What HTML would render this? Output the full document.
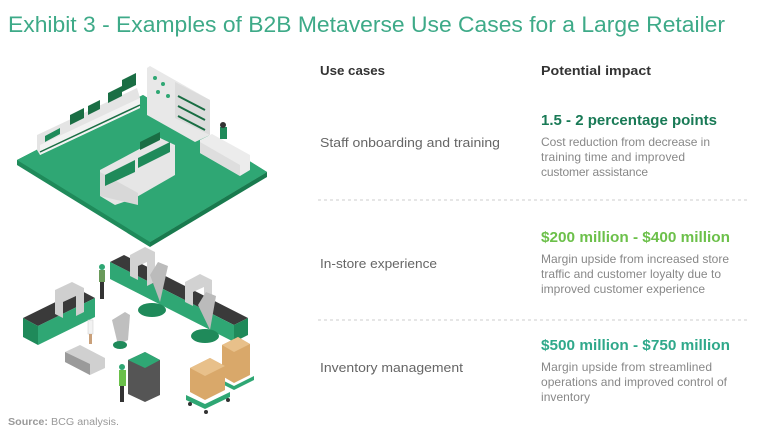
<!DOCTYPE html>
<html><head><meta charset="utf-8"><style>
html,body{margin:0;padding:0;background:#fff;}
svg{display:block;}
text{font-family:"Liberation Sans",sans-serif;}
</style></head><body>
<svg width="768" height="448" viewBox="0 0 768 448" xmlns="http://www.w3.org/2000/svg">
<rect width="768" height="448" fill="#fff"/>
<text x="8" y="32" font-size="22" fill="#3eaa88" textLength="717" lengthAdjust="spacingAndGlyphs">Exhibit 3 - Examples of B2B Metaverse Use Cases for a Large Retailer</text>

<!-- store floor -->
<polygon points="17,160 143,95 267,172 150,242 150,247 17,165" fill="#1f8a5a"/>
<polygon points="150,242 267,172 267,177 150,247" fill="#197a4e"/>
<polygon points="17,160 143,95 267,172 150,242" fill="#2fa774"/>
<!-- back-left shelves -->
<polygon points="37,135 137,88 140,98 140,108 40,155 37,150" fill="#e4e4e4"/>
<polygon points="40,145 140,98 140,108 40,155" fill="#f2f2f2"/>
<polygon points="45,142 60,134 60,128 45,136" fill="#1f8a5a"/>
<polygon points="70,125 84,118 84,108 70,115" fill="#1a6e44"/>
<polygon points="88,115 100,109 100,100 88,106" fill="#1a6e44"/>
<polygon points="108,103 122,96 122,86 108,93" fill="#1a6e44"/>
<polygon points="122,92 136,85 136,73 122,80" fill="#1a6e44"/>
<line x1="40" y1="152" x2="140" y2="105" stroke="#1a6e44" stroke-width="1.5"/>
<!-- back-right wall -->
<polygon points="147,68 150,66 210,100 210,135 195,142 147,115" fill="#e8e8e8"/>
<polygon points="175,82 210,100 210,135 175,118" fill="#dcdcdc"/>
<circle cx="155" cy="78" r="2" fill="#2fa774"/><circle cx="163" cy="84" r="2" fill="#2fa774"/><circle cx="158" cy="92" r="2" fill="#2fa774"/><circle cx="168" cy="96" r="2" fill="#2fa774"/>
<line x1="178" y1="96" x2="205" y2="110" stroke="#1a6e44" stroke-width="2"/>
<line x1="178" y1="106" x2="205" y2="120" stroke="#1a6e44" stroke-width="2"/>
<line x1="178" y1="116" x2="205" y2="130" stroke="#1a6e44" stroke-width="2"/>
<!-- counter -->
<polygon points="200,140 212,134 250,155 250,170 240,176 200,153" fill="#ececec"/>
<polygon points="200,142 240,165 240,176 200,153" fill="#dedede"/>
<rect x="220" y="127" width="7" height="12" fill="#1f8a5a"/><circle cx="223" cy="125" r="3" fill="#333"/>
<!-- center shelves -->
<polygon points="100,170 160,138 175,145 175,175 135,198 115,205 100,196" fill="#e6e6e6"/>
<polygon points="100,172 138,193 138,205 100,196" fill="#d8d8d8"/>
<polygon points="105,175 135,160 135,172 105,186" fill="#1f8a5a"/>
<polygon points="138,158 170,142 170,152 138,168" fill="#1f8a5a"/>
<polygon points="140,150 160,140 160,132 140,142" fill="#1a6e44"/>

<!-- factory -->
<!-- left conveyor -->
<polygon points="23,318 80,290 95,298 38,326" fill="#3a3a3a"/>
<polygon points="23,318 38,326 38,345 23,337" fill="#1f8a5a"/>
<polygon points="38,326 95,298 95,317 38,345" fill="#2fa774"/>
<polygon points="55,290 72,282 84,288 84,312 76,316 76,296 63,302 63,318 55,314" fill="#cfcfcf"/>
<!-- back conveyor -->
<polygon points="110,262 124,255 248,318 234,325" fill="#3a3a3a"/>
<polygon points="110,262 234,325 234,342 110,279" fill="#2fa774"/>
<polygon points="234,325 248,318 248,335 234,342" fill="#1f8a5a"/>
<polygon points="130,255 145,247 155,252 155,282 147,286 147,262 138,266 138,280 130,276" fill="#d2d2d2"/>
<polygon points="185,282 200,274 212,280 212,305 204,309 204,287 193,292 193,306 185,302" fill="#d2d2d2"/>
<polygon points="150,275 158,262 168,266 160,302" fill="#bbbbbb"/>
<ellipse cx="152" cy="310" rx="14" ry="7" fill="#1f8a5a"/>
<polygon points="198,305 206,292 216,296 210,330" fill="#bbbbbb"/>
<ellipse cx="205" cy="336" rx="14" ry="7" fill="#1f8a5a"/>
<!-- workers -->
<rect x="99" y="270" width="6" height="12" fill="#6a9a5a"/><rect x="100" y="282" width="4" height="17" fill="#333"/><circle cx="102" cy="267" r="3" fill="#2fa774"/>
<rect x="88" y="320" width="5" height="14" fill="#f2f2f2" stroke="#ccc" stroke-width=".5"/><rect x="89" y="334" width="3" height="10" fill="#c9a07a"/>
<polygon points="112,320 125,312 130,315 128,340 118,345" fill="#bfbfbf"/>
<ellipse cx="120" cy="345" rx="7" ry="4" fill="#1f8a5a"/>
<!-- agv -->
<polygon points="65,352 80,345 105,358 105,368 90,375 65,362" fill="#d0d0d0"/>
<polygon points="65,352 90,364 90,375 65,362" fill="#9a9a9a"/>
<!-- control panel -->
<polygon points="128,360 145,352 160,360 160,395 145,402 128,394" fill="#555"/>
<polygon points="128,360 145,352 160,360 145,368" fill="#2fa774"/>
<rect x="119" y="370" width="7" height="16" fill="#6ac04a"/><rect x="120" y="386" width="4" height="16" fill="#333"/><circle cx="122" cy="367" r="3" fill="#2fa774"/>
<!-- carts with boxes -->
<polygon points="222,345 238,337 250,344 250,375 234,383 222,376" fill="#d9a86a"/>
<polygon points="222,345 238,337 250,344 234,352" fill="#e8c08a"/>
<polygon points="218,378 234,386 254,376 254,380 234,390 218,382" fill="#2fa774"/>
<polygon points="190,368 210,358 225,366 225,390 205,400 190,392" fill="#d9a86a"/>
<polygon points="190,368 210,358 225,366 205,376" fill="#e8c08a"/>
<polygon points="186,395 205,404 230,392 230,397 205,409 186,400" fill="#2fa774"/>
<circle cx="190" cy="404" r="2" fill="#333"/><circle cx="206" cy="412" r="2" fill="#333"/><circle cx="228" cy="400" r="2" fill="#333"/>

<!-- table -->
<text x="320" y="75" font-size="13" font-weight="bold" fill="#333" textLength="65" lengthAdjust="spacingAndGlyphs">Use cases</text>
<text x="541" y="75" font-size="13" font-weight="bold" fill="#333" textLength="110" lengthAdjust="spacingAndGlyphs">Potential impact</text>

<text x="320" y="147" font-size="13" fill="#666" textLength="180" lengthAdjust="spacingAndGlyphs">Staff onboarding and training</text>
<text x="541" y="125" font-size="15" font-weight="bold" fill="#197a56" textLength="176" lengthAdjust="spacingAndGlyphs">1.5 - 2 percentage points</text>
<text font-size="12" fill="#888" lengthAdjust="spacingAndGlyphs">
<tspan x="541" y="146" textLength="169">Cost reduction from decrease in</tspan>
<tspan x="541" y="161" textLength="144">training time and improved</tspan>
<tspan x="541" y="176" textLength="107">customer assistance</tspan>
</text>
<line x1="318" y1="200" x2="748" y2="200" stroke="#ccc" stroke-width="1" stroke-dasharray="3,3"/>

<text x="320" y="268" font-size="13" fill="#666" textLength="117" lengthAdjust="spacingAndGlyphs">In-store experience</text>
<text x="541" y="242" font-size="15" font-weight="bold" fill="#6cc04a" textLength="189" lengthAdjust="spacingAndGlyphs">$200 million - $400 million</text>
<text font-size="12" fill="#888" lengthAdjust="spacingAndGlyphs">
<tspan x="541" y="263" textLength="188">Margin upside from increased store</tspan>
<tspan x="541" y="278" textLength="180">traffic and customer loyalty due to</tspan>
<tspan x="541" y="293" textLength="164">improved customer experience</tspan>
</text>
<line x1="318" y1="320" x2="748" y2="320" stroke="#ccc" stroke-width="1" stroke-dasharray="3,3"/>

<text x="320" y="372" font-size="13" fill="#666" textLength="143" lengthAdjust="spacingAndGlyphs">Inventory management</text>
<text x="541" y="350" font-size="15" font-weight="bold" fill="#2fa88a" textLength="189" lengthAdjust="spacingAndGlyphs">$500 million - $750 million</text>
<text font-size="12" fill="#888" lengthAdjust="spacingAndGlyphs">
<tspan x="541" y="371" textLength="171">Margin upside from streamlined</tspan>
<tspan x="541" y="386" textLength="186">operations and improved control of</tspan>
<tspan x="541" y="401" textLength="49">inventory</tspan>
</text>

<text x="8" y="425" font-size="10" fill="#999" textLength="111" lengthAdjust="spacingAndGlyphs"><tspan font-weight="bold">Source:</tspan> BCG analysis.</text>
</svg>
</body></html>
